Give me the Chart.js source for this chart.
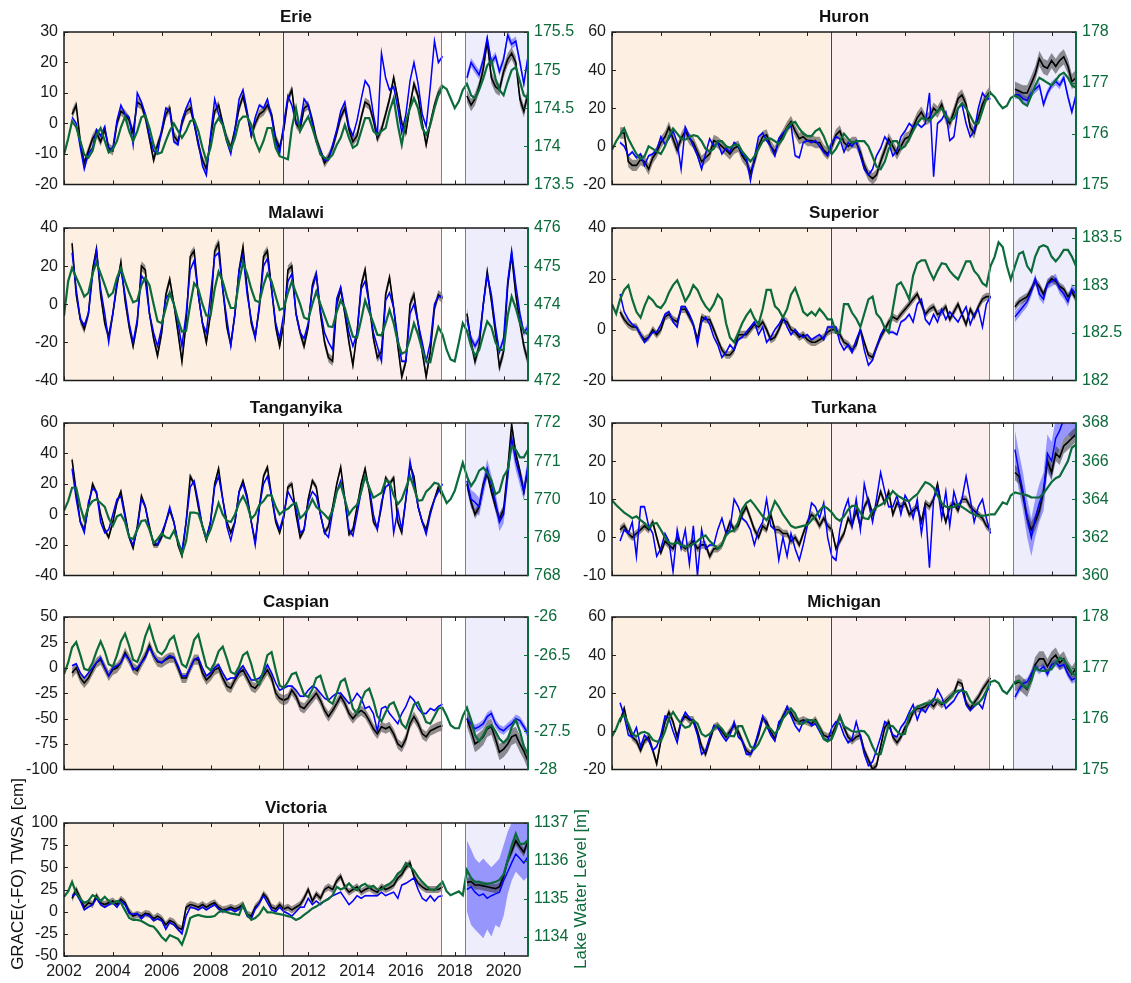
<!DOCTYPE html>
<html>
<head>
<meta charset="utf-8">
<script src="https://cdn.jsdelivr.net/npm/chart.js@4.4.1/dist/chart.umd.min.js"></script>
<style>
  body { margin: 0; background: #fff; width: 1131px; height: 983px; position: relative; overflow: hidden; }
  canvas { position: absolute; }
</style>
</head>
<body>
<script>
// time axis, two-monthly steps (decimal years)
const months = [
  2002, 2002.17, 2002.33, 2002.5, 2002.67, 2002.83, 2003, 2003.17, 2003.33, 2003.5, 2003.67, 2003.83,
  2004, 2004.17, 2004.33, 2004.5, 2004.67, 2004.83, 2005, 2005.17, 2005.33, 2005.5, 2005.67, 2005.83,
  2006, 2006.17, 2006.33, 2006.5, 2006.67, 2006.83, 2007, 2007.17, 2007.33, 2007.5, 2007.67, 2007.83,
  2008, 2008.17, 2008.33, 2008.5, 2008.67, 2008.83, 2009, 2009.17, 2009.33, 2009.5, 2009.67, 2009.83,
  2010, 2010.17, 2010.33, 2010.5, 2010.67, 2010.83, 2011, 2011.17, 2011.33, 2011.5, 2011.67, 2011.83,
  2012, 2012.17, 2012.33, 2012.5, 2012.67, 2012.83, 2013, 2013.17, 2013.33, 2013.5, 2013.67, 2013.83,
  2014, 2014.17, 2014.33, 2014.5, 2014.67, 2014.83, 2015, 2015.17, 2015.33, 2015.5, 2015.67, 2015.83,
  2016, 2016.17, 2016.33, 2016.5, 2016.67, 2016.83, 2017, 2017.17, 2017.33, 2017.5, 2017.67, 2017.83,
  2018, 2018.17, 2018.33, 2018.5, 2018.67, 2018.83, 2019, 2019.17, 2019.33, 2019.5, 2019.67, 2019.83,
  2020, 2020.17, 2020.33, 2020.5, 2020.67, 2020.83, 2021
];
const graceStart = 2002.33;   // first GRACE month
const foStart = 2018.5;       // first GRACE-FO month
const periodEdges = [2002, 2010.95, 2017.45, 2018.42, 2021];
const yearTicks = [2002, 2004, 2006, 2008, 2010, 2012, 2014, 2016, 2018, 2020];

// ---------- Erie ----------
const erieBlackGrace = [3, 6, -6, -13,
  -9, -5, -3, -6, -2, -8,  -9, 0, 4, 3, 1, -3,  7, 6, 2, -5, -12, -7,  -3, 3, 5, -4, -6, 0,
  4, 5, 0, -7, -12, -15,  -5, 4, 6, 0, -5, -8,  -2, 5, 9, 3, -4, 0,  3, 4, 6, 3, -5, -8,
  -2, 8, 11, 0, -2, 5,  6, 1, -5, -9, -13, -11,  -8, -3, 2, 5, -2, -6,  -4, 2, 7, 6, 1, -5,
  -2, 3, 8, 15, 8, 0,  -3, 6, 13, 9, 0, -7,  0, 6, 10, 12];
const erieBlueGrace = [2, 0, -8, -15,
  -10, -8, -2, -4, -1, -9,  -8, 1, 6, 3, 2, -7,  10, 7, 3, -4, -9, -10,  -2, 5, 4, -6, -7, 1,
  5, 8, 0, -6, -14, -17,  -4, 8, 3, 0, -6, -10,  -2, 8, 11, 4, -4, 2,  6, 5, 8, 2, -6, -10,
  0, 9, 6, 0, 0, 8,  6, 0, -6, -9, -12, -12,  -7, -2, 4, 7, -1, -4,  1, 8, 14, 12, 3, -4,
  23, 15, 11, 12, 5, -3,  3, 14, 20, 13, 3, -1,  12, 27, 20, 22];
const erieBlackFo = [9, 6, 8, 12, 18, 27, 15, 12, 11, 17, 21, 23, 20, 8, 4, 10];
const erieBlueFo = [15, 20, 18, 16, 21, 28, 20, 22, 17, 21, 29, 26, 27, 20, 13, 22];
const erieLevel = [
  173.89, 174.1, 174.33, 174.25, 174.07, 173.89,  173.85, 173.94, 174.15, 174.24, 174.07, 173.92,
  173.96, 174.07, 174.25, 174.39, 174.2, 174.07,  174.2, 174.38, 174.41, 174.24, 174.02, 173.9,
  173.92, 174.07, 174.2, 174.3, 174.2, 174.11,  174.2, 174.33, 174.35, 174.2, 173.98, 173.81,
  173.98, 174.28, 174.37, 174.28, 174.07, 173.96,  174.11, 174.33, 174.39, 174.39, 174.28, 174.07,
  173.94, 174.07, 174.24, 174.24, 173.98, 173.87,  173.85, 173.83, 174.24, 174.5, 174.2, 174.3,
  174.39, 174.24, 174.07, 173.89, 173.85, 173.83,  173.89, 174.02, 174.11, 174.28, 174.11, 173.98,
  174.02, 174.2, 174.37, 174.37, 174.2, 174.15,  174.2, 174.24, 174.46, 174.63, 174.28, 174.02,
  174.33, 174.5, 174.63, 174.5, 174.24, 174.15,  174.28, 174.5, 174.67, 174.79, 174.75, 174.63,
  174.5, 174.59, 174.74, 174.82, 174.67, 174.63,  174.74, 174.89, 175.06, 175.13, 174.89, 174.74,
  174.67, 174.85, 175.0, 175.04, 174.85, 174.67,  174.63];

// ---------- Huron ----------
const huronBlackGrace = [7, 7, -8, -10,
  -10, -7, -8, -12, -6, -3,  2, 5, 10, 4, -2, 4,  8, 4, 2, -3, -8, -6,  -4, 3, 2, 0, -2, -4,
  -1, 0, -5, -8, -14, -8,  0, 5, 6, 0, -3, 2,  6, 10, 13, 8, 4, 5,  3, 3, 2, 2, -2, -4,
  0, 6, 8, 2, 0, 2,  2, -3, -10, -15, -17, -15,  -8, -2, 4, 0, -4, 0,  4, 5, 10, 15, 18, 14,
  15, 20, 18, 22, 15, 12,  18, 25, 27, 22, 10, 7,  15, 22, 26, 29];
const huronBlueGrace = [2, 0, -5, -3,
  -6, -4, -10, -5, -4, -2,  5, 1, 4, 8, 2, -12,  10, 5, 0, -5, -12, -4,  4, 0, 2, -4, -1, -3,
  2, 0, -4, -6, -18, -6,  5, 7, 3, 0, -5, 4,  7, 9, 11, -5, -6, 2,  3, 2, 3, 0, -3, -5,
  2, 5, 4, -3, 2, 0,  3, -5, -12, -15, -12, -5,  -1, 5, 2, -5, -2, 5,  8, 12, 10, 12, 10, 12,
  28, -16, 12, 14, 18, 3,  5, 20, 22, 12, 5, 8,  20, 28, 25, 25];
const huronBlackFo = [30, 29, 28, 28, 33, 38, 46, 42, 41, 45, 42, 45, 47, 42, 34, 36];
const huronBlueFo = [27, 27, 25, 24, 28, 30, 32, 22, 28, 32, 34, 32, 36, 26, 18, 27];
const huronLevel = [
  175.68, 175.85, 175.97, 176.1, 175.9, 175.75,  175.6, 175.5, 175.55, 175.75, 175.7, 175.65,
  175.6, 175.75, 175.95, 176.1, 176.0, 175.9,  175.88, 175.93, 175.97, 175.95, 175.85, 175.7,
  175.65, 175.7, 175.85, 175.85, 175.75, 175.72,  175.78, 175.78, 175.65, 175.55, 175.45, 175.55,
  175.7, 175.85, 175.9, 175.9, 175.85, 175.8,  175.9, 176.1, 176.2, 176.23, 176.1, 176.0,
  175.95, 175.95, 176.05, 176.1, 175.95, 175.75,  175.6, 175.7, 175.85, 176.0, 175.9, 175.82,
  175.85, 175.85, 175.85, 175.75, 175.55, 175.35,  175.3, 175.45, 175.7, 175.85, 175.85, 175.7,
  175.75, 175.9, 176.05, 176.2, 176.3, 176.3,  176.25, 176.35, 176.45, 176.5, 176.35, 176.25,
  176.3, 176.5, 176.6, 176.5, 176.35, 176.2,  176.2, 176.45, 176.7, 176.8, 176.72, 176.6,
  176.5, 176.55, 176.7, 176.75, 176.7, 176.6,  176.55, 176.75, 176.95, 177.1, 177.05, 177.0,
  176.95, 177.05, 177.15, 177.2, 177.1, 176.95,  176.9];

// ---------- Malawi ----------
const malawiBlackGrace = [32, 5, -8, -13,
  -5, 18, 29, 5, -10, -17,  -5, 10, 22, 2, -12, -22,  -10, 20, 18, -5, -18, -27,  -15, 5, 13, 0, -15, -30,
  -10, 25, 28, 5, -10, -20,  -5, 28, 32, 8, -12, -21,  -5, 18, 30, 8, -10, -17,  -2, 25, 28, 8, -12, -22,
  -10, 18, 20, -5, -15, -22,  -12, 10, 16, -5, -20, -28,  -30, 0, 8, -5, -20, -32,  -15, 10, 18, 0, -18, -28,
  -25, 5, 14, -2, -22, -38,  -30, 0, 5, -10, -25, -38,  -25, -2, 5, 3];
const malawiBlueGrace = [27, 8, -8, -11,
  -5, 15, 28, 8, -5, -20,  -5, 12, 18, 5, -10, -20,  -8, 15, 12, -5, -15, -22,  -12, 3, 6, 0, -10, -22,
  -5, 18, 23, 5, -10, -15,  5, 25, 27, 8, -8, -22,  -5, 18, 26, 5, -8, -18,  0, 20, 24, 8, -10, -18,
  -5, 12, 16, -5, -15, -18,  -10, 8, 16, -3, -15, -20,  -24, 3, 9, -3, -15, -22,  -15, 8, 12, 0, -15, -22,
  -30, 2, 6, -2, -18, -30,  -30, -5, 0, -10, -20, -30,  -20, 0, 4, 4];
const malawiBlackFo = [-5, -20, -30, -22, 0, 17, 2, -15, -33, -25, 10, 26, 5, -10, -22, -30];
const malawiBlueFo = [-8, -18, -22, -18, 0, 15, 5, -12, -25, -18, 12, 28, 10, -5, -15, -12];
const malawiLevel = [
  473.7, 474.6, 474.95, 474.7, 474.45, 474.2,  474.3, 474.8, 475.1, 474.8, 474.5, 474.2,
  474.3, 474.7, 474.95, 474.6, 474.3, 474.05,  474.1, 474.5, 474.7, 474.5, 474.0, 473.55,
  473.5, 473.9, 474.3, 474.0, 473.6, 473.28,  473.3, 474.0, 474.55, 474.4, 474.0, 473.7,
  473.7, 474.4, 474.85, 474.6, 474.2, 473.9,  473.9, 474.6, 475.1, 474.8, 474.4, 474.1,
  474.05, 474.5, 474.8, 474.6, 474.2, 473.85,  473.9, 474.3, 474.6, 474.3, 474.0, 473.65,
  473.6, 474.0, 474.33, 474.0, 473.7, 473.42,  473.4, 473.8, 474.1, 473.9, 473.5, 473.15,
  473.12, 473.6, 474.1, 473.8, 473.5, 473.2,  473.18, 473.5, 473.85, 473.5, 473.0, 472.7,
  472.75, 473.1, 473.5, 473.2, 472.8, 472.5,  472.48, 473.0, 473.4, 473.2, 472.8, 472.55,
  472.5, 473.0, 473.5, 473.3, 472.9, 472.65,  472.8, 473.2, 473.55, 473.4, 473.0, 472.8,
  472.8, 473.7, 474.2, 473.9, 473.5, 473.3,  473.2];

// ---------- Superior ----------
const superiorBlackGrace = [7, 4, 2, 1,
  1, -2, -4, -3, 0, -2,  0, 5, 6, 4, 3, 8,  8, 5, 2, -4, 5, 4,  4, 0, -4, -8, -10, -10,
  -8, -2, -2, -2, 0, 2,  1, 3, 0, -4, -3, 0,  4, 3, 0, -1, -3, -2,  -4, -5, -5, -4, -3, -1,
  0, 0, -2, -5, -6, -8,  -6, 0, -5, -10, -11, -7,  -3, 0, 3, 5, 4, 6,  8, 10, 12, 14, 10, 6,
  8, 9, 6, 7, 9, 4,  7, 10, 6, 2, 8, 5,  9, 12, 13, 13];
const superiorBlueGrace = [14, 7, 4, 2,
  1, -2, -5, -3, -1, -1,  2, 6, 7, 3, 1, 9,  9, 6, 2, -6, 3, 5,  2, -3, -6, -11, -9, -6,
  -8, -4, -3, -1, 1, 3,  -2, 1, -5, -3, 0, 2,  5, 1, -2, 0, -2, -3,  -2, -4, -3, -2, -4, 1,
  1, 1, -5, -8, -6, -9,  -4, 0, -8, -14, -12, -7,  -2, 1, -1, -1, -2, 3,  4, 6, 3, 10, 12, 4,
  2, 6, 3, 8, 4, 7,  5, 3, 6, 9, 2, 6,  8, 1, 10, 13];
const superiorBlackFo = [9, 11, 12, 13, 16, 19, 17, 14, 18, 20, 19, 17, 16, 13, 15, 12];
const superiorBlueFo = [5, 7, 9, 11, 15, 20, 14, 12, 18, 19, 20, 16, 14, 11, 16, 14];
const superiorLevel = [
  182.8, 182.7, 182.85, 182.95, 183.0, 182.85,  182.72, 182.66, 182.78, 182.88, 182.84, 182.78,
  182.76, 182.82, 182.92, 183.0, 183.05, 182.95,  182.83, 182.9, 183.0, 182.95, 182.85, 182.78,
  182.73, 182.8, 182.9, 182.85, 182.6, 182.45,  182.4, 182.5, 182.6, 182.68, 182.74, 182.65,
  182.59, 182.75, 182.95, 182.95, 182.78, 182.74,  182.66, 182.75, 182.9, 182.97, 182.85, 182.72,
  182.68, 182.72, 182.68, 182.75, 182.7, 182.64,  182.64, 182.5, 182.5, 182.8, 182.8, 182.71,
  182.65, 182.56, 182.7, 182.85, 182.88, 182.7,  182.65, 182.55, 182.5, 182.75, 183.0, 183.03,
  182.95, 182.85, 183.1, 183.23, 183.26, 183.26,  183.15, 183.06, 183.15, 183.23, 183.22, 183.15,
  183.1, 183.06, 183.15, 183.25, 183.25, 183.15,  183.1, 183.02, 182.99, 183.2, 183.3, 183.45,
  183.4, 183.2, 183.06, 183.2, 183.33, 183.35,  183.2, 183.14, 183.3, 183.4, 183.42, 183.4,
  183.3, 183.25, 183.3, 183.37, 183.37, 183.3,  183.2];

// ---------- Tanganyika ----------
const tanganyikaBlackGrace = [36, 15, -5, -10,
  5, 20, 14, 0, -10, -15,  -5, 8, 15, 0, -15, -22,  -8, 12, 5, -8, -20, -20,  -15, -5, 3, -5, -20, -27,
  -5, 25, 20, 5, -8, -17,  -5, 20, 30, 10, -5, -12,  -5, 15, 22, 12, -5, -18,  5, 25, 31, 12, -5, -12,
  -2, 18, 20, 0, -15, -10,  10, 22, 18, 0, -12, -8,  5, 20, 31, 10, -13, -10,  5, 20, 30, 15, -5, -9,
  5, 24, 20, 24, -5, -12,  10, 32, 25, 5, -5, -10,  2, 10, 18, 12];
const tanganyikaBlueGrace = [30, 10, -5, -12,
  8, 17, 15, -5, -12, -10,  0, 10, 12, -2, -15, -20,  -10, 10, 5, -10, -18, -20,  -12, -5, 5, -5, -18, -24,
  -5, 18, 22, 8, -8, -15,  -5, 18, 25, 10, -8, -17,  -5, 15, 20, 10, -5, -20,  5, 20, 25, 12, -3, -10,
  0, 15, 10, 5, -12, -10,  8, 15, 12, 0, -12, -15,  2, 15, 22, 10, -10, -14,  0, 15, 25, 18, 0, -10,
  8, 18, 20, -12, 3, -10,  10, 35, 20, 5, -5, -13,  0, 10, 15, 20];
const tanganyikaBlackFo = [20, 8, 0, 5, 20, 27, 15, 5, -3, 3, 30, 59, 40, 28, 15, 30];
const tanganyikaBlueFo = [22, 10, 8, 5, 18, 30, 20, 8, -5, 0, 25, 50, 35, 25, 15, 32];
const tanganyikaLevel = [
  769.7, 769.95, 770.3, 770.3, 769.8, 769.45,  769.8, 769.95, 770.0, 769.9, 769.8, 769.5,
  769.3, 769.55, 769.6, 769.4, 769.0, 768.95,  769.2, 769.43, 769.45, 769.2, 768.85, 768.95,
  769.1, 769.0, 768.97, 769.17, 768.9, 768.55,  768.9, 769.65, 769.65, 769.62, 769.3, 768.96,
  769.2, 769.55, 769.9, 769.6, 769.43, 769.4,  769.6, 769.9, 770.08, 769.85, 769.48, 769.6,
  769.85, 769.95, 770.1, 770.1, 769.8, 769.6,  769.7, 769.75, 769.85, 769.9, 769.5, 769.6,
  769.75, 770.0, 769.8, 769.7, 769.6, 769.48,  769.7, 770.2, 770.39, 770.0, 769.6, 769.75,
  769.85, 770.2, 770.6, 770.3, 770.04, 770.1,  770.17, 770.5, 770.45, 770.1, 769.87, 770.0,
  770.3, 770.6, 770.3, 769.96, 769.98, 770.2,  770.3, 770.43, 770.4, 770.15, 769.9, 770.0,
  770.22, 770.6, 770.96, 770.6, 770.35, 770.5,  770.75, 770.83, 770.7, 770.5, 770.13, 770.2,
  770.6, 770.78, 771.4, 771.3, 771.1, 771.1,  771.3];

// ---------- Turkana ----------
const turkanaBlackGrace = [2, 3, 1, 0,
  1, 2, 3, 2, 4, 0,  -4, -1, -2, -3, 0, -2,  -3, -2, -1, -3, -2, -2,  -5, -3, -3, -2, 1, 4,
  2, 3, 6, 8, 5, 2,  0, 3, 2, 6, 2, 2,  1, 1, -1, 0, -2, 1,  4, 6, 5, 3, 5, 3,
  2, -3, -1, 1, 5, 3,  7, 3, 8, 10, 6, 8,  12, 9, 12, 6, 9, 8,  9, 6, 7, 8, 4, 9,
  8, 10, 14, 8, 4, 8,  9, 7, 10, 10, 8, 7,  6, 5, 3, 2];
const turkanaBlueGrace = [-1, 2, 1, 4,
  -5, 8, 8, 3, 1, -5,  -3, 1, -1, -9, 2, -3,  2, -7, 3, -10, 2, -3,  -2, -2, 2, 5, 1, 2,
  10, 8, 5, 4, 2, -2,  2, 4, 10, 3, 2, -6,  0, -5, 1, -3, -6, -2,  3, 9, 8, 5, 9, 0,
  -5, -6, 2, 7, 10, 3,  10, 2, 14, 9, 4, 10,  17, 12, 8, 8, 11, 6,  11, 9, 5, 10, 1, 8,
  -8, 10, 13, 5, 12, 3,  12, 8, 10, 16, 10, 4,  8, 10, 5, 1];
const turkanaBlackFo = [17, 16, 11, 5, 2, 4, 7, 12, 20, 17, 22, 21, 24, 25, 26, 27];
const turkanaBlueFo = [23, 17, 12, 5, 0, 5, 9, 12, 22, 20, 26, 28, 31, 32, 31, 32];
const turkanaLevel = [
  363.95, 363.7, 363.5, 363.3, 363.15, 363.0,  363.1, 362.9, 362.75, 362.5, 362.7, 362.75,
  362.4, 362.0, 361.7, 361.65, 361.74, 361.6,  361.5, 361.55, 361.65, 361.8, 362.0, 362.1,
  361.8, 361.6, 361.4, 361.6, 362.1, 362.3,  362.35, 362.8, 363.48, 363.8, 363.95, 363.7,
  363.4, 363.1, 362.9, 363.3, 363.9, 363.6,  363.2, 362.9, 362.6, 362.5, 362.55, 362.6,
  362.65, 362.9, 363.1, 363.4, 363.65, 363.5,  363.3, 363.0, 362.87, 363.1, 363.45, 363.65,
  363.65, 363.3, 363.0, 362.96, 363.4, 363.6,  363.7, 363.85, 364.1, 364.43, 364.2, 364.09,
  363.95, 363.9, 364.1, 364.26, 364.6, 364.9,  364.8, 364.6, 364.2, 363.8, 363.6, 363.57,
  363.6, 363.74, 363.6, 363.45, 363.3, 363.2,  363.13, 363.13, 363.15, 363.2, 363.2, 363.5,
  363.83, 363.74, 364.2, 364.35, 364.3, 364.26,  364.2, 364.1, 364.09, 364.1, 364.3, 364.6,
  364.9, 365.1, 365.2, 365.6, 366.0, 366.7,  366.87];

// ---------- Caspian ----------
const caspianBlackGrace = [-5, 0, -10, -15,
  -10, -2, 5, 8, 0, -8,  -2, 0, 5, 15, 8, 0,  -3, 5, 12, 22, 12, 6,  5, 8, 10, 10, 0, -10,
  -10, 0, 8, 8, -5, -12,  -8, -2, 0, -10, -18, -20,  -12, -5, -2, -10, -18, -20,  -15, -8, -2, -10, -25, -30,
  -32, -30, -22, -28, -38, -40,  -35, -30, -25, -32, -42, -48,  -42, -35, -28, -35, -45, -50,  -45, -42, -45, -52, -60, -65,
  -58, -60, -58, -65, -75, -78,  -70, -55, -48, -55, -65, -68,  -62, -60, -58, -57];
const caspianBlueGrace = [2, 4, -5, -10,
  -5, 0, 5, 10, 0, -8,  0, 2, 5, 13, 8, -2,  0, 5, 10, 20, 12, 7,  5, 9, 12, 10, 2, -8,
  -8, 0, 8, 10, 0, -8,  -5, 0, 3, -5, -12, -10,  -10, -3, 2, -5, -12, -12,  -10, -5, 3, -5, -15, -22,
  -20, -18, -18, -22, -28, -28,  -22, -18, -20, -25, -30, -32,  -28, -25, -25, -30, -35, -32,  -25, -30, -40, -38, -45, -62,
  -40, -38, -45, -50, -55, -45,  -38, -28, -32, -40, -45, -45,  -40, -42, -38, -36];
const caspianBlackFo = [-50, -62, -75, -72, -68, -60, -58, -70, -83, -80, -75, -68, -66, -75, -82, -92];
const caspianBlueFo = [-50, -55, -60, -58, -55, -48, -45, -55, -60, -62, -58, -55, -50, -52, -58, -65];
const caspianLevel = [
  -26.75, -26.6, -26.4, -26.33, -26.5, -26.68,  -26.7, -26.6, -26.45, -26.32, -26.45, -26.62,
  -26.65, -26.5, -26.32, -26.22, -26.38, -26.56,  -26.59, -26.45, -26.25, -26.11, -26.3, -26.45,
  -26.49, -26.42, -26.3, -26.25, -26.45, -26.62,  -26.66, -26.5, -26.3, -26.23, -26.45, -26.65,
  -26.7, -26.6, -26.45, -26.39, -26.55, -26.72,  -26.75, -26.65, -26.5, -26.46, -26.62, -26.82,
  -26.88, -26.7, -26.5, -26.46, -26.7, -26.9,  -26.93, -26.85, -26.75, -26.73, -26.88, -27.02,
  -27.05, -26.95, -26.8, -26.77, -26.95, -27.1,  -27.14, -27.0, -26.85, -26.81, -27.0, -27.2,
  -27.27, -27.1, -26.98, -26.94, -27.1, -27.3,  -27.37, -27.25, -27.15, -27.12, -27.25, -27.4,
  -27.46, -27.3, -27.15, -27.12, -27.25, -27.38,  -27.4, -27.3, -27.2, -27.19, -27.3, -27.42,
  -27.46, -27.46, -27.3, -27.19, -27.35, -27.55,  -27.63, -27.55, -27.45, -27.42, -27.5, -27.6,
  -27.65, -27.6, -27.45, -27.35, -27.5, -27.7,  -27.8];

// ---------- Michigan ----------
const michiganBlackGrace = [5, 12, 2, -3,
  -5, -10, -5, -3, -10, -17,  -5, 5, 10, 5, -3, 5,  8, 6, 6, 0, -8, -12,  -5, 2, 3, 0, -3, 0,
  3, 0, -5, -10, -12, -8,  -2, 7, 5, 0, -4, 3,  8, 12, 10, 6, 5, 6,  5, 4, 6, 2, -2, -3,
  -2, 3, 8, 2, -3, -5,  -3, -2, -10, -15, -20, -18,  -8, 2, 5, -3, -6, -3,  2, 5, 10, 12, 12, 13,
  15, 13, 16, 14, 16, 18,  20, 26, 25, 15, 12, 15,  18, 22, 25, 28];
const michiganBlueGrace = [15, 8, -2, -3,
  2, -8, -2, -5, -10, -8,  -2, 8, 7, 0, -6, 5,  10, 7, 5, -2, -12, -10,  -3, 3, 2, -2, -5, -2,
  5, -3, -5, -12, -12, -8,  0, 8, 3, -2, -5, 5,  7, 13, 8, 3, 0, 5,  6, 3, 4, 0, -4, -5,
  2, 5, 4, -2, -6, -4,  5, -3, -12, -18, -16, -10,  -3, 5, 3, -2, -3, 2,  5, 10, 14, 6, 12, 10,
  14, 16, 22, 18, 12, 14,  16, 20, 22, 14, 11, 13,  15, 12, 20, 25];
const michiganBlackFo = [25, 26, 24, 22, 28, 35, 38, 38, 34, 38, 40, 36, 38, 33, 30, 33];
const michiganBlueFo = [18, 22, 25, 26, 30, 34, 32, 34, 30, 35, 36, 34, 35, 30, 27, 28];
const michiganLevel = [
  175.65, 175.8, 176.0, 176.07, 175.9, 175.7,  175.65, 175.72, 175.74, 175.7, 175.58, 175.55,
  175.55, 175.75, 176.0, 176.13, 176.0, 175.9,  175.82, 175.85, 175.97, 175.9, 175.7, 175.65,
  175.7, 175.8, 175.87, 175.8, 175.68, 175.66,  175.65, 175.85, 175.85, 175.65, 175.45, 175.4,
  175.5, 175.68, 175.85, 175.8, 175.7, 175.8,  176.0, 176.1, 176.2, 176.1, 175.9, 175.9,
  175.97, 175.97, 175.95, 175.8, 175.6, 175.55,  175.6, 175.8, 176.04, 175.85, 175.8, 175.75,
  175.74, 175.76, 175.75, 175.65, 175.45, 175.3,  175.3, 175.6, 175.87, 175.85, 175.75, 175.68,
  175.7, 176.07, 176.15, 176.23, 176.27, 176.3,  176.3, 176.39, 176.35, 176.3, 176.32, 176.4,
  176.5, 176.55, 176.55, 176.52, 176.35, 176.26,  176.3, 176.4, 176.55, 176.72, 176.75, 176.7,
  176.55, 176.49, 176.6, 176.72, 176.75, 176.65,  176.6, 176.75, 177.0, 176.95, 176.94, 176.95,
  176.97, 177.1, 177.2, 177.15, 177.04, 176.9,  176.85];

// ---------- Victoria ----------
const victoriaBlackGrace = [15, 25, 15, 5,
  10, 8, 18, 10, 8, 10,  12, 8, 14, 10, 0, -5,  -3, -5, -2, -3, -8, -5,  -8, -15, -10, -12, -18, -20,
  5, 8, 7, 5, 8, 5,  8, 10, 5, 2, 3, 5,  3, 5, 8, -3, -5, 5,  10, 20, 15, 5, 3, 8,
  3, 5, 2, 5, 8, 15,  25, 12, 20, 15, 25, 28,  25, 35, 40, 28, 22, 25,  28, 22, 25, 27, 24, 22,
  28, 25, 27, 30, 38, 42,  50, 55, 40, 32, 28, 25,  25, 25, 25, 28];
const victoriaBlueGrace = [18, 20, 12, 2,
  5, 8, 15, 8, 5, 8,  10, 5, 12, 8, -2, -3,  -2, -8, -3, -5, -10, -8,  -10, -20, -12, -15, -20, -25,
  -5, 5, 4, 2, 5, 2,  5, 8, 3, 0, 2, 3,  0, 3, 6, -5, -8, 3,  10, 18, 10, 2, 0, 5,
  0, -2, -5, 0, 5, 5,  15, 8, 12, 8, 12, 15,  18, 20, 22, 15, 8, 12,  18, 15, 18, 18, 18, 18,
  22, 18, 20, 22, 15, 30,  32, 35, 38, 25, 15, 12,  18, 12, 17, 18];
const victoriaBlackFo = [33, 34, 30, 30, 29, 28, 27, 26, 28, 40, 58, 68, 80, 73, 67, 80];
const victoriaBlueFo = [25, 28, 22, 18, 20, 15, 18, 20, 22, 35, 45, 55, 65, 60, 55, 62];
const victoriaBlueFoHigh = [80, 70, 60, 55, 60, 55, 50, 55, 60, 75, 90, 100, 100, 100, 100, 100];
const victoriaBlueFoLow = [0, -15, -20, -25, -30, -20, -28, -15, -18, -5, 20, 35, 45, 40, 35, 40];
const victoriaLevel = [
  1135.06, 1135.2, 1135.45, 1135.15, 1135.0, 1134.9,  1134.95, 1135.1, 1135.05, 1134.95, 1135.06, 1134.95,
  1134.88, 1134.95, 1134.9, 1134.7, 1134.5, 1134.45,  1134.45, 1134.42, 1134.36, 1134.3, 1134.27, 1134.15,
  1134.0, 1133.9, 1134.05, 1134.0, 1133.95, 1133.8,  1134.1, 1134.5, 1134.55, 1134.58, 1134.55, 1134.53,
  1134.53, 1134.55, 1134.65, 1134.7, 1134.65, 1134.62,  1134.6, 1134.58, 1134.85, 1134.6, 1134.45, 1134.5,
  1134.6, 1134.78, 1134.65, 1134.65, 1134.62, 1134.6,  1134.58, 1134.55, 1134.52, 1134.45, 1134.5, 1134.58,
  1134.66, 1134.75, 1134.8, 1134.88, 1134.95, 1135.0,  1135.1, 1135.32, 1135.25, 1135.3, 1135.41, 1135.3,
  1135.23, 1135.35, 1135.4, 1135.3, 1135.35, 1135.25,  1135.25, 1135.35, 1135.4, 1135.5, 1135.67, 1135.75,
  1135.95, 1135.85, 1135.75, 1135.58, 1135.45, 1135.35,  1135.25, 1135.23, 1135.35, 1135.45, 1135.2, 1135.1,
  1135.15, 1135.2, 1135.1, 1135.76, 1135.55, 1135.45,  1135.45, 1135.4, 1135.4, 1135.42, 1135.45, 1135.5,
  1135.65, 1136.02, 1136.4, 1136.72, 1136.45, 1136.45,  1136.55];

// panels: axes [min, max, step]; err = band half-widths [black GRACE, black FO, blue GRACE, blue FO]
const panels = [
  { title: 'Erie', col: 0, row: 0, blackGrace: erieBlackGrace, blueGrace: erieBlueGrace, blackFo: erieBlackFo, blueFo: erieBlueFo,
    level: erieLevel, left: [-20, 30, 10], right: [173.5, 175.5, 0.5], err: [1.5, 2, 0.6, 1.5] },
  { title: 'Huron', col: 1, row: 0, blackGrace: huronBlackGrace, blueGrace: huronBlueGrace, blackFo: huronBlackFo, blueFo: huronBlueFo,
    level: huronLevel, left: [-20, 60, 20], right: [175, 178, 1], err: [3, 4, 0.8, 2] },
  { title: 'Malawi', col: 0, row: 1, blackGrace: malawiBlackGrace, blueGrace: malawiBlueGrace, blackFo: malawiBlackFo, blueFo: malawiBlueFo,
    level: malawiLevel, left: [-40, 40, 20], right: [472, 476, 1], err: [2.5, 3, 0.8, 2] },
  { title: 'Superior', col: 1, row: 1, blackGrace: superiorBlackGrace, blueGrace: superiorBlueGrace, blackFo: superiorBlackFo, blueFo: superiorBlueFo,
    level: superiorLevel, left: [-20, 40, 20], right: [182, 183.6, 0.5], err: [1.5, 1.5, 0.6, 2] },
  { title: 'Tanganyika', col: 0, row: 2, blackGrace: tanganyikaBlackGrace, blueGrace: tanganyikaBlueGrace, blackFo: tanganyikaBlackFo, blueFo: tanganyikaBlueFo,
    level: tanganyikaLevel, left: [-40, 60, 20], right: [768, 772, 1], err: [2, 3, 0.8, 6] },
  { title: 'Turkana', col: 1, row: 2, blackGrace: turkanaBlackGrace, blueGrace: turkanaBlueGrace, blackFo: turkanaBlackFo, blueFo: turkanaBlueFo,
    level: turkanaLevel, left: [-10, 30, 10], right: [360, 368, 2], err: [1, 2, 0.4, 5] },
  { title: 'Caspian', col: 0, row: 3, blackGrace: caspianBlackGrace, blueGrace: caspianBlueGrace, blackFo: caspianBlackFo, blueFo: caspianBlueFo,
    level: caspianLevel, left: [-100, 50, 25], right: [-28, -26, 0.5], err: [5, 8, 1, 4] },
  { title: 'Michigan', col: 1, row: 3, blackGrace: michiganBlackGrace, blueGrace: michiganBlueGrace, blackFo: michiganBlackFo, blueFo: michiganBlueFo,
    level: michiganLevel, left: [-20, 60, 20], right: [175, 178, 1], err: [2, 4, 0.8, 2] },
  { title: 'Victoria', col: 0, row: 4, blackGrace: victoriaBlackGrace, blueGrace: victoriaBlueGrace, blackFo: victoriaBlackFo, blueFo: victoriaBlueFo,
    blueFoHigh: victoriaBlueFoHigh, blueFoLow: victoriaBlueFoLow,
    level: victoriaLevel, left: [-50, 100, 25], right: [1133.5, 1137, 1], err: [4, 5, 1, 0] }
];

const GREEN = '#0b6b3a';
const FONT = '"Liberation Sans", Arial, sans-serif';
const periodColors = ['#fdf0e3', '#fdeeee', null, '#ededfc'];
const sepColors = ['#444', '#808080', '#808080'];

const colLeft = [64, 612];
const rowTop = [32, 228, 423, 617, 823];
const rowBottom = [186, 382, 577, 771, 956];
const plotW = 464;

function joinMissions(grace, fo) {
  const out = months.map(() => null);
  const g0 = months.indexOf(graceStart), f0 = months.indexOf(foStart);
  grace.forEach((v, i) => { out[g0 + i] = v; });
  fo.forEach((v, i) => { out[f0 + i] = v; });
  return out;
}
function offset(arr, d) { return arr.map(v => v == null ? null : v + d); }
function plainNumber(v) { return String(Math.round(v * 100) / 100); }

function makeDecor(p, canvasTop) {
  return {
    id: 'decor',
    beforeDatasetsDraw(chart) {
      const { ctx, chartArea: a, scales: { x } } = chart;
      ctx.save();
      for (let i = 0; i < periodColors.length; i++) {
        if (!periodColors[i]) continue;
        const x0 = x.getPixelForValue(periodEdges[i]), x1 = x.getPixelForValue(periodEdges[i + 1]);
        ctx.fillStyle = periodColors[i];
        ctx.fillRect(x0, a.top, x1 - x0, a.bottom - a.top);
      }
      ctx.restore();
    },
    afterDatasetsDraw(chart) {
      const { ctx, chartArea: a, scales: { x, y, y2 } } = chart;
      ctx.save();
      // period separators
      [1, 2, 3].forEach((k, i) => {
        const px = Math.round(x.getPixelForValue(periodEdges[k])) + 0.5;
        ctx.strokeStyle = sepColors[i];
        ctx.lineWidth = 1;
        ctx.beginPath(); ctx.moveTo(px, a.top); ctx.lineTo(px, a.bottom); ctx.stroke();
      });
      // ticks
      ctx.strokeStyle = '#222';
      ctx.lineWidth = 1;
      yearTicks.forEach(t => {
        const px = Math.round(x.getPixelForValue(t)) + 0.5;
        ctx.beginPath();
        ctx.moveTo(px, a.bottom); ctx.lineTo(px, a.bottom - 4);
        ctx.moveTo(px, a.top); ctx.lineTo(px, a.top + 4);
        ctx.stroke();
      });
      y.ticks.forEach(t => {
        const py = Math.round(y.getPixelForValue(t.value)) + 0.5;
        ctx.beginPath(); ctx.moveTo(a.left, py); ctx.lineTo(a.left + 4, py); ctx.stroke();
      });
      ctx.strokeStyle = GREEN;
      y2.ticks.forEach(t => {
        const py = Math.round(y2.getPixelForValue(t.value)) + 0.5;
        ctx.beginPath(); ctx.moveTo(a.right, py); ctx.lineTo(a.right - 4, py); ctx.stroke();
      });
      // frame
      ctx.strokeStyle = '#1a1a1a';
      ctx.lineWidth = 1.5;
      ctx.beginPath();
      ctx.moveTo(a.right, a.top); ctx.lineTo(a.left, a.top); ctx.lineTo(a.left, a.bottom); ctx.lineTo(a.right, a.bottom);
      ctx.stroke();
      ctx.strokeStyle = GREEN;
      ctx.lineWidth = 2;
      ctx.beginPath(); ctx.moveTo(a.right, a.top - 0.75); ctx.lineTo(a.right, a.bottom + 0.75); ctx.stroke();
      // title
      ctx.fillStyle = '#111';
      ctx.font = 'bold 17px ' + FONT;
      ctx.textAlign = 'center';
      ctx.textBaseline = 'middle';
      ctx.fillText(p.title, (a.left + a.right) / 2, a.top - 15);
      // shared axis titles on the bottom panel
      if (p.row === 4) {
        ctx.font = '17px ' + FONT;
        ctx.fillStyle = '#111';
        ctx.save();
        ctx.translate(18, 874 - canvasTop);
        ctx.rotate(-Math.PI / 2);
        ctx.fillText('GRACE(-FO) TWSA [cm]', 0, 0);
        ctx.restore();
        ctx.fillStyle = GREEN;
        ctx.save();
        ctx.translate(581, 889 - canvasTop);
        ctx.rotate(-Math.PI / 2);
        ctx.fillText('Lake Water Level [m]', 0, 0);
        ctx.restore();
      }
      ctx.restore();
    }
  };
}

panels.forEach(p => {
  const last = p.row === 4;
  const padTop = last ? 63 : 32;
  const padBottom = last ? 30 : 14;
  const padLeft = 64;
  const padRight = p.col === 0 ? 64 : 55;
  const plotH = rowBottom[p.row] - rowTop[p.row];
  const w = padLeft + plotW + padRight, h = padTop + plotH + padBottom;
  const canvasTop = rowTop[p.row] - padTop;

  const canvas = document.createElement('canvas');
  canvas.width = w; canvas.height = h;
  canvas.style.width = w + 'px'; canvas.style.height = h + 'px';
  canvas.style.left = (colLeft[p.col] - padLeft) + 'px';
  canvas.style.top = canvasTop + 'px';
  document.body.appendChild(canvas);

  const black = joinMissions(p.blackGrace, p.blackFo);
  const blue = joinMissions(p.blueGrace, p.blueFo);
  const blackHi = joinMissions(offset(p.blackGrace, p.err[0]), offset(p.blackFo, p.err[1]));
  const blackLo = joinMissions(offset(p.blackGrace, -p.err[0]), offset(p.blackFo, -p.err[1]));
  const blueHi = joinMissions(offset(p.blueGrace, p.err[2]), p.blueFoHigh || offset(p.blueFo, p.err[3]));
  const blueLo = joinMissions(offset(p.blueGrace, -p.err[2]), p.blueFoLow || offset(p.blueFo, -p.err[3]));

  const band = { pointRadius: 0, borderWidth: 1, borderColor: 'rgba(0,0,0,0)', yAxisID: 'y' };
  const line = { pointRadius: 0, fill: false, tension: 0, yAxisID: 'y' };

  const tickFont = { family: FONT, size: 16 };

  new Chart(canvas.getContext('2d'), {
    type: 'line',
    data: {
      labels: months,
      datasets: [
        { ...band, data: blueHi, fill: false, order: 6 },
        { ...band, data: blueLo, fill: '-1', backgroundColor: 'rgba(30,30,255,0.42)', order: 6 },
        { ...band, data: blackHi, fill: false, order: 5 },
        { ...band, data: blackLo, fill: '-1', backgroundColor: 'rgba(40,40,40,0.5)', order: 5 },
        { ...line, data: black, borderColor: '#000000', borderWidth: 1.6, order: 2 },
        { ...line, data: blue, borderColor: '#0000ff', borderWidth: 1.5, order: 1 },
        { ...line, data: p.level, borderColor: GREEN, borderWidth: 2.2, yAxisID: 'y2', order: 0 }
      ]
    },
    options: {
      responsive: false,
      animation: false,
      events: [],
      layout: { padding: { top: padTop, left: 0, right: 0, bottom: 0 } },
      plugins: { legend: { display: false }, tooltip: { enabled: false } },
      scales: {
        x: {
          type: 'linear', min: 2002, max: 2021,
          grid: { display: false, drawTicks: false }, border: { display: false },
          ticks: { display: last, stepSize: 2, includeBounds: false, autoSkip: false, maxRotation: 0,
                   padding: 6, color: '#1a1a1a', font: tickFont, callback: v => String(v) },
          afterFit: s => { s.height = padBottom; }
        },
        y: {
          position: 'left', min: p.left[0], max: p.left[1],
          grid: { display: false, drawTicks: false }, border: { display: false },
          ticks: { stepSize: p.left[2], includeBounds: false, autoSkip: false, padding: 6,
                   color: '#1a1a1a', font: tickFont, callback: plainNumber },
          afterFit: s => { s.width = padLeft; }
        },
        y2: {
          position: 'right', min: p.right[0], max: p.right[1],
          grid: { display: false, drawTicks: false }, border: { display: false },
          ticks: { stepSize: p.right[2], includeBounds: false, autoSkip: false, padding: 6,
                   color: GREEN, font: tickFont, callback: plainNumber },
          afterFit: s => { s.width = padRight; }
        }
      }
    },
    plugins: [makeDecor(p, canvasTop)]
  });
});
</script>
</body>
</html>
